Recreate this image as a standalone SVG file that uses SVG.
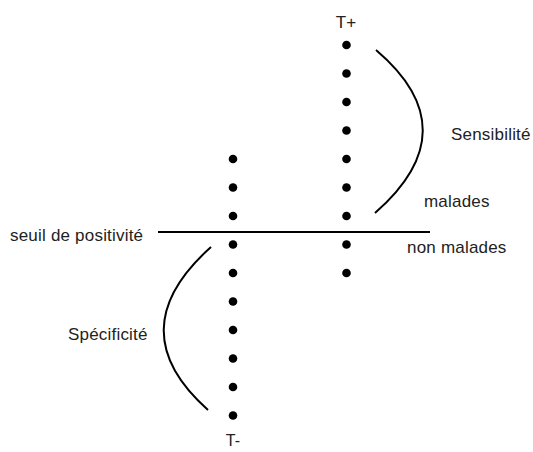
<svg xmlns="http://www.w3.org/2000/svg" width="533" height="452" viewBox="0 0 533 452">
<style>
text{font-family:"Liberation Sans",Arial,sans-serif;font-size:17px;letter-spacing:0.2px;fill:#222}
.d{fill:#000}
.c{fill:none;stroke:#000;stroke-width:2}
</style>
<rect width="533" height="452" fill="#fff"/>
<g id="tplus">
<text x="346" y="28" text-anchor="middle">T+</text>
<circle class="d" cx="346.5" cy="45" r="4.3"/>
<circle class="d" cx="346.5" cy="73.5" r="4.3"/>
<circle class="d" cx="346.5" cy="102" r="4.3"/>
<circle class="d" cx="346.5" cy="130.5" r="4.3"/>
<circle class="d" cx="346.5" cy="159" r="4.3"/>
<circle class="d" cx="346.5" cy="187.5" r="4.3"/>
<circle class="d" cx="346.5" cy="216" r="4.3"/>
<circle class="d" cx="346.5" cy="244.5" r="4.3"/>
<circle class="d" cx="346.5" cy="273" r="4.3"/>
</g>
<g id="tminus">
<circle class="d" cx="233" cy="159" r="4.3"/>
<circle class="d" cx="233" cy="187.5" r="4.3"/>
<circle class="d" cx="233" cy="216" r="4.3"/>
<circle class="d" cx="233" cy="244.5" r="4.3"/>
<circle class="d" cx="233" cy="273" r="4.3"/>
<circle class="d" cx="233" cy="301.5" r="4.3"/>
<circle class="d" cx="233" cy="330" r="4.3"/>
<circle class="d" cx="233" cy="358.5" r="4.3"/>
<circle class="d" cx="233" cy="387" r="4.3"/>
<circle class="d" cx="233" cy="415.5" r="4.3"/>
<text x="233" y="446" text-anchor="middle" style="font-size:16px">T-</text>
</g>
<g id="connectors">
<line x1="158" y1="232" x2="430" y2="232" stroke="#000" stroke-width="2.2"/>
<path class="c" d="M376,50 Q470,130 375,213"/>
<path class="c" d="M211,247 Q118,330 208,410"/>
</g>
<g id="labels">
<text x="10" y="241">seuil de positivité</text>
<text x="451" y="140">Sensibilité</text>
<text x="424" y="207">malades</text>
<text x="407" y="253">non malades</text>
<text x="68" y="340">Spécificité</text>
</g>
</svg>
